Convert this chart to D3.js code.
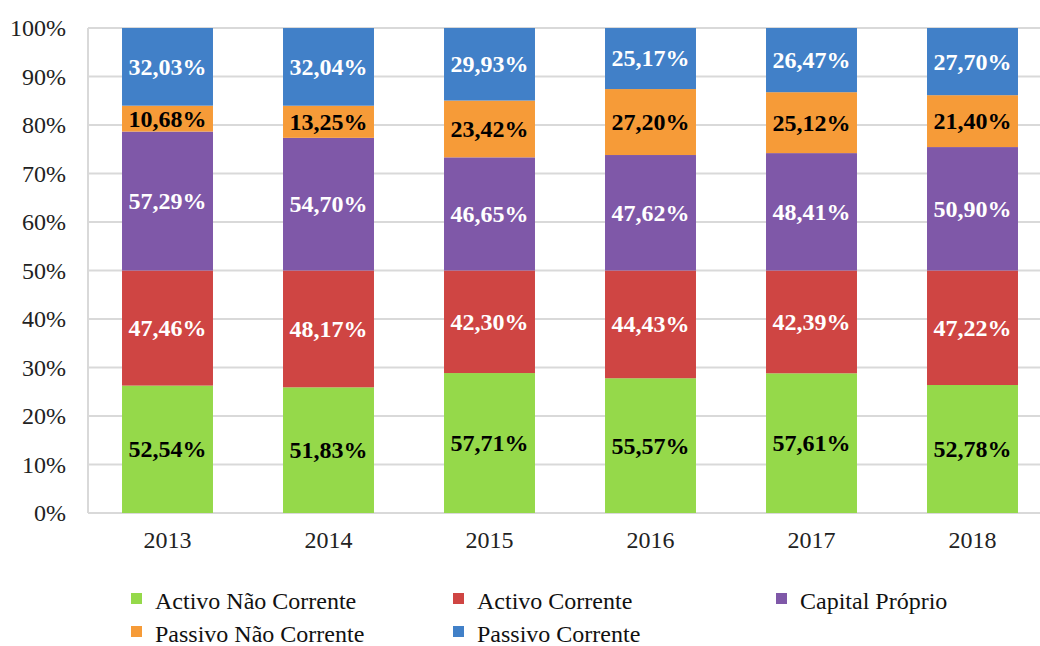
<!DOCTYPE html>
<html>
<head>
<meta charset="utf-8">
<script src="https://cdnjs.cloudflare.com/ajax/libs/d3/7.8.5/d3.min.js"></script>
<style>
body { margin: 0; background: #fff; font-family: "Liberation Serif"; }
svg text { font-family: "Liberation Serif" !important; }
</style>
</head>
<body style="margin:0">
<script>

// data (each side of the balance sheet sums to 100%)
var years = ['2013', '2014', '2015', '2016', '2017', '2018']
var activoNaoCorrente = [52.54, 51.83, 57.71, 55.57, 57.61, 52.78]
var activoCorrente    = [47.46, 48.17, 42.30, 44.43, 42.39, 47.22]
var capitalProprio    = [57.29, 54.70, 46.65, 47.62, 48.41, 50.90]
var passivoNaoCorr    = [10.68, 13.25, 23.42, 27.20, 25.12, 21.40]
var passivoCorrente   = [32.03, 32.04, 29.93, 25.17, 26.47, 27.70]
var yTicks = [0, 10, 20, 30, 40, 50, 60, 70, 80, 90, 100]

var series = [
    { key: 'anc', name: 'Activo Não Corrente', values: activoNaoCorrente, color: '#95d94a', label: '#000' },
    { key: 'ac',  name: 'Activo Corrente',     values: activoCorrente,    color: '#cf4543', label: '#fff' },
    { key: 'cp',  name: 'Capital Próprio',     values: capitalProprio,    color: '#7f58a8', label: '#fff' },
    { key: 'pnc', name: 'Passivo Não Corrente', values: passivoNaoCorr,   color: '#f69b38', label: '#000' },
    { key: 'pc',  name: 'Passivo Corrente',    values: passivoCorrente,   color: '#4180c8', label: '#fff' }
]

var rows = years.map(function(y, i) {
    var r = { year: y }
    series.forEach(function(s) { r[s.key] = s.values[i] })
    return r
})

var svg = d3.select('body').append('svg')
    .attr('width', 1040)
    .attr('height', 646)
    .attr('font-family', 'Liberation Serif')

var x = d3.scaleBand()
    .domain(years)
    .range([87, 1053])
    .paddingInner(0.435)
    .paddingOuter(0.2175)

var y = d3.scaleLinear()
    .domain([0, 100])
    .range([513, 28])

// gridlines
svg.append('g')
    .selectAll('line')
    .data(yTicks)
    .enter().append('line')
        .attr('x1', 88)
        .attr('x2', 1053)
        .attr('y1', function(d) { return y(d) })
        .attr('y2', function(d) { return y(d) })
        .attr('stroke', '#d9d9d9')
        .attr('stroke-width', 2)

svg.append('line')
    .attr('x1', 88).attr('x2', 88)
    .attr('y1', y(100)).attr('y2', y(0))
    .attr('stroke', '#d9d9d9')
    .attr('stroke-width', 2)

// y axis labels
var yAxis = svg.append('g')
    .attr('transform', 'translate(80,0)')
    .call(d3.axisLeft(y).tickValues(yTicks).tickSize(0).tickPadding(0)
        .tickFormat(function(d) { return d + '%' }))
yAxis.select('.domain').remove()
yAxis.attr('font-family', 'Liberation Serif').attr('font-size', 24)
yAxis.selectAll('text')
    .attr('x', -14)
    .attr('fill', '#222')
    .attr('font-family', 'Liberation Serif')
    .style('font-family', '"Liberation Serif"')

// x axis labels
var xAxis = svg.append('g')
    .attr('transform', 'translate(0,' + y(0) + ')')
    .call(d3.axisBottom(x).tickSize(0).tickPadding(18))
xAxis.select('.domain').remove()
xAxis.attr('font-family', 'Liberation Serif').attr('font-size', 24)
xAxis.selectAll('text')
    .attr('fill', '#222')
    .attr('font-family', 'Liberation Serif')
    .style('font-family', '"Liberation Serif"')

// stacks: each side is halved so the two sides fill the 0-100% axis
var stack = d3.stack()
    .keys(series.map(function(s) { return s.key }))
    .value(function(d, key) { return d[key] / 2 })

var layers = stack(rows)

var layer = svg.append('g')
    .selectAll('g')
    .data(layers)
    .enter().append('g')
        .attr('fill', function(d, i) { return series[i].color })

layer.selectAll('rect')
    .data(function(d) { return d })
    .enter().append('rect')
        .attr('x', function(d) { return x(d.data.year) })
        .attr('width', x.bandwidth())
        .attr('y', function(d) { return y(d[1]) })
        .attr('height', function(d) { return y(d[0]) - y(d[1]) })

layer.each(function(l, i) {
    d3.select(this).selectAll('text')
        .data(l)
        .enter().append('text')
            .attr('x', function(d) { return x(d.data.year) + x.bandwidth() / 2 })
            .attr('y', function(d) { return y((d[0] + d[1]) / 2) })
            .attr('dy', '0.33em')
            .attr('text-anchor', 'middle')
            .attr('fill', series[i].label)
            .attr('font-size', 24)
            .attr('font-weight', 'bold')
            .attr('font-family', 'Liberation Serif')
            .style('font-family', '"Liberation Serif"')
            .text(function(d) { return d.data[series[i].key].toFixed(2).replace('.', ',') + '%' })
})

// legend
var legendPos = [[131, 609], [453, 609], [776, 609], [131, 642], [453, 642]]
var legend = svg.append('g')
    .selectAll('g')
    .data(series)
    .enter().append('g')
        .attr('transform', function(d, i) { return 'translate(' + legendPos[i][0] + ',' + legendPos[i][1] + ')' })

legend.append('rect')
    .attr('x', 0)
    .attr('y', -16)
    .attr('width', 11)
    .attr('height', 11)
    .attr('fill', function(d) { return d.color })

legend.append('text')
    .attr('x', 24)
    .attr('fill', '#111')
    .attr('font-size', 24)
    .attr('font-family', 'Liberation Serif')
    .style('font-family', '"Liberation Serif"')
    .text(function(d) { return d.name })

</script>
</body>
</html>
